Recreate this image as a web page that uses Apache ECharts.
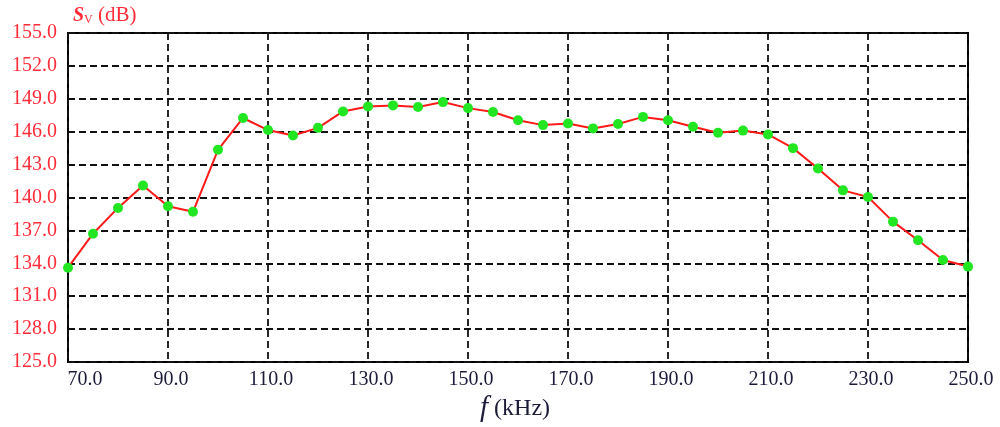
<!DOCTYPE html>
<html><head><meta charset="utf-8">
<script src="https://cdn.jsdelivr.net/npm/echarts@6/dist/echarts.min.js"></script>
<style>html,body{margin:0;padding:0;background:#fff}#c{width:1000px;height:427px}</style>
</head><body><div id="c"></div>
<script>
const freq = [70,75,80,85,90,95,100,105,110,115,120,125,130,135,140,145,150,155,160,165,170,175,180,185,190,195,200,205,210,215,220,225,230,235,240,245,250];
const sv = [133.6,136.7,139.05,141.1,139.2,138.7,144.35,147.25,146.15,145.65,146.35,147.85,148.3,148.4,148.25,148.7,148.15,147.8,147.05,146.6,146.75,146.3,146.7,147.35,147.05,146.45,145.9,146.1,145.75,144.5,142.65,140.65,140.05,137.8,136.1,134.3,133.7];
const xTicks = [70,90,110,130,150,170,190,210,230,250];
const yTicks = [125,128,131,134,137,140,143,146,149,152,155];

const chart = echarts.init(document.getElementById('c'), null, {renderer:'canvas'});
const serif = '"Liberation Serif", "Times New Roman", serif';
const gridDash = {color:'#111', width:1.8, type:[7,4]};
chart.setOption({
  animation:false,
  backgroundColor:'#fff',
  grid:{left:68,right:32,top:33,bottom:65,show:true,borderColor:'#000',borderWidth:2,backgroundColor:'transparent'},
  xAxis:{
    type:'value',min:70,max:250,
    axisLine:{show:false},
    axisTick:{show:false,customValues:xTicks},
    splitLine:{show:true,lineStyle:gridDash},
    axisLabel:{
      customValues:xTicks,
      margin:8,
      color:'#1c1c3a',fontFamily:serif,fontSize:20,
      formatter:(v)=> v===70 ? '{first|70.0}' : '{n|' + v.toFixed(1) + '}',
      rich:{
        first:{padding:[0,0,0,34],color:'#1c1c3a',fontFamily:serif,fontSize:20},
        n:{padding:[0,0,0,6],color:'#1c1c3a',fontFamily:serif,fontSize:20}
      }
    }
  },
  yAxis:{
    type:'value',min:125,max:155,
    axisLine:{show:false},
    axisTick:{show:false,customValues:yTicks},
    splitLine:{show:true,lineStyle:gridDash},
    axisLabel:{
      customValues:yTicks,
      margin:11,
      color:'#ff2d3a',fontFamily:serif,fontSize:20,
      padding:[5,0,0,0],
      formatter:(v)=>v.toFixed(1)
    }
  },
  graphic:[
    {type:'text',left:73,top:5,style:{
      text:'{s|S}{v|V}{u| (dB)}',
      rich:{
        s:{fontFamily:serif,fontSize:20,fontStyle:'italic',fontWeight:'bold',fill:'#ff2d3a'},
        v:{fontFamily:serif,fontSize:12,fill:'#ff2d3a',verticalAlign:'bottom',padding:[8,0,0,0]},
        u:{fontFamily:serif,fontSize:21,fill:'#ff2d3a'}
      }}},
    {type:'text',left:480,top:394,style:{
      text:'{f|f}{u| (kHz)}',
      rich:{
        f:{fontFamily:serif,fontSize:29,fontStyle:'italic',fill:'#1c1c3a'},
        u:{fontFamily:serif,fontSize:24,fill:'#1c1c3a'}
      }}}
  ],
  series:[{
    type:'line',
    data:freq.map((f,i)=>[f,sv[i]]),
    lineStyle:{color:'#ff1a1a',width:2},
    symbol:'circle',symbolSize:10,
    itemStyle:{color:'#22e622',borderWidth:0},
    z:5
  }]
});
</script>
</body></html>
